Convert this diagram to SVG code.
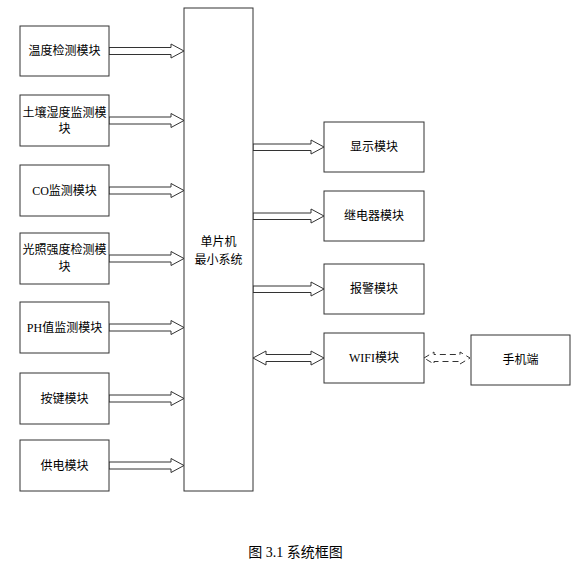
<svg xmlns="http://www.w3.org/2000/svg" width="585" height="568" viewBox="0 0 585 568">
<style>
.box{fill:#fff;stroke:#333;stroke-width:1}
.t{font-family:"Liberation Serif","Noto Sans CJK SC",serif;font-size:12px;fill:#000;text-anchor:middle;dominant-baseline:central}
.ar{fill:#fff;stroke:#333;stroke-width:1}
.dash{fill:#fff;stroke:#333;stroke-width:1;stroke-dasharray:6,4}
.cap{font-family:"Liberation Serif","Noto Sans CJK SC",serif;font-size:14px;fill:#000;text-anchor:middle;dominant-baseline:central}
</style>
<rect width="585" height="568" fill="#fff"/>
<g id="connectors">
<polygon class="ar" points="109,47.5 171,47.5 171,44 184,51 171,58 171,54.5 109,54.5"/>
<polygon class="ar" points="109,117 171,117 171,113.5 184,120.5 171,127.5 171,124 109,124"/>
<polygon class="ar" points="109,187 171,187 171,183.5 184,190.5 171,197.5 171,194 109,194"/>
<polygon class="ar" points="109,255 171,255 171,251.5 184,258.5 171,265.5 171,262 109,262"/>
<polygon class="ar" points="109,324 171,324 171,320.5 184,327.5 171,334.5 171,331 109,331"/>
<polygon class="ar" points="109,395 171,395 171,391.5 184,398.5 171,405.5 171,402 109,402"/>
<polygon class="ar" points="109,462 171,462 171,458.5 184,465.5 171,472.5 171,469 109,469"/>
<polygon class="ar" points="253,144 311,144 311,140 324,147 311,154 311,150.5 253,150.5"/>
<polygon class="ar" points="253,213 311,213 311,209 324,216 311,223 311,219.5 253,219.5"/>
<polygon class="ar" points="253,286 311,286 311,282 324,289 311,296 311,292.5 253,292.5"/>
<polygon class="ar" points="253,358 266,351 266,354.5 311,354.5 311,351 324,358 311,365 311,361.5 266,361.5 266,365"/>
<polygon class="dash" points="424,358 434,352 434,354.5 460,354.5 460,352 470,358 460,364 460,361.5 434,361.5 434,364"/>
</g>
<g id="mcu"><rect class="box" x="184" y="8" width="69" height="483"/><text class="t" x="218.5" y="242">单片机</text><text class="t" x="218.5" y="260">最小系统</text></g>
<g id="temp"><rect class="box" x="20" y="26" width="89" height="50"/><text class="t" x="64.5" y="51">温度检测模块</text></g>
<g id="soil"><rect class="box" x="20" y="95" width="89" height="51"/><text class="t" x="64.5" y="113">土壤湿度监测模</text><text class="t" x="64.5" y="129">块</text></g>
<g id="co"><rect class="box" x="20" y="165" width="89" height="51"/><text class="t" x="64.5" y="190.5">CO监测模块</text></g>
<g id="light"><rect class="box" x="20" y="233" width="89" height="51"/><text class="t" x="64.5" y="250">光照强度检测模</text><text class="t" x="64.5" y="267">块</text></g>
<g id="ph"><rect class="box" x="20" y="302" width="89" height="51"/><text class="t" x="64.5" y="327.5">PH值监测模块</text></g>
<g id="key"><rect class="box" x="20" y="373" width="89" height="51"/><text class="t" x="64.5" y="398.5">按键模块</text></g>
<g id="power"><rect class="box" x="20" y="440" width="89" height="51"/><text class="t" x="64.5" y="465.5">供电模块</text></g>
<g id="display"><rect class="box" x="324" y="122" width="100" height="50"/><text class="t" x="374" y="147">显示模块</text></g>
<g id="relay"><rect class="box" x="324" y="191" width="100" height="50"/><text class="t" x="374" y="216">继电器模块</text></g>
<g id="alarm"><rect class="box" x="324" y="264" width="100" height="50"/><text class="t" x="374" y="289">报警模块</text></g>
<g id="wifi"><rect class="box" x="324" y="333" width="100" height="50"/><text class="t" x="374" y="358">WIFI模块</text></g>
<g id="phone"><rect class="box" x="471" y="335" width="99" height="50"/><text class="t" x="520.5" y="360">手机端</text></g>
<text class="cap" x="295.5" y="552">图 3.1 系统框图</text>
</svg>
